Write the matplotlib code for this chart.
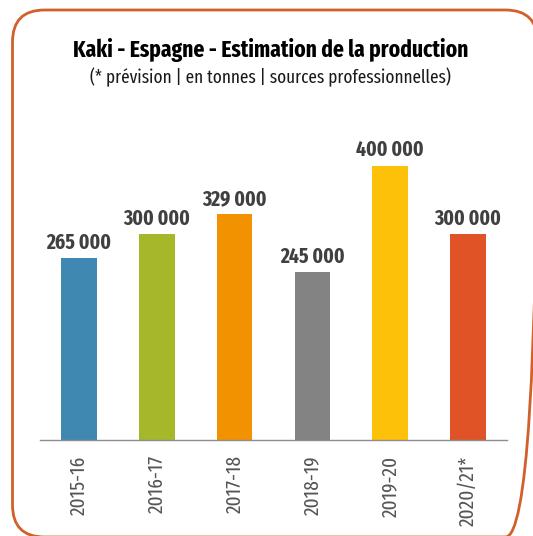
import matplotlib
matplotlib.use("Agg")
import matplotlib.pyplot as plt
from matplotlib.patches import FancyBboxPatch

plt.rcParams['font.family'] = ['Fira Sans Extra Condensed', 'DejaVu Sans']

seasons = ["2015-16", "2016-17", "2017-18", "2018-19", "2019-20", "2020/21*"]
production = [265000, 300000, 329000, 245000, 400000, 300000]
labels = ["265 000", "300 000", "329 000", "245 000", "400 000", "300 000"]
colors = ["#3f88b2", "#a6b82a", "#f39200", "#838383", "#fdc10a", "#e05327"]

TITLE = "Kaki - Espagne - Estimation de la production"
SUBTITLE = "(* prévision | en tonnes | sources professionnelles)"


def plot_production():
    fig = plt.figure(figsize=(5.33, 5.36), dpi=100)

    # background axes in pixel units, for the rounded frame
    bg = fig.add_axes([0, 0, 1, 1])
    bg.set_xlim(0, 533)
    bg.set_ylim(536, 0)
    bg.axis("off")
    frame = FancyBboxPatch((12.5, 10), 525, 527,
                           boxstyle="round,pad=0,rounding_size=32",
                           fill=False, edgecolor="#d2602a", linewidth=2.0,
                           clip_on=False)
    bg.add_patch(frame)

    ax = fig.add_axes([40 / 533, 96 / 536, 467 / 533, 330 / 536])
    x = range(len(seasons))
    bars = ax.bar(x, production, width=0.46, color=colors)

    for bar, lab in zip(bars, labels):
        ax.annotate(lab, (bar.get_x() + bar.get_width() / 2, bar.get_height()),
                    xytext=(0, 3.5), textcoords="offset points",
                    ha="center", va="bottom", fontsize=15.2, fontweight="bold",
                    color="#404040")

    ax.set_xlim(-0.5, len(seasons) - 0.5)
    ax.set_ylim(0, 481000)
    ax.set_xticks(list(x))
    ax.set_xticklabels(seasons, rotation=90, fontsize=15, color="#555555")
    ax.tick_params(axis="x", length=0, pad=11)
    ax.set_yticks([])
    for side in ["left", "right", "top"]:
        ax.spines[side].set_visible(False)
    ax.spines["bottom"].set_color("#8c8c8c")
    ax.spines["bottom"].set_linewidth(1.0)

    fig.text(0.508, 1 - 57 / 536, TITLE, ha="center", va="baseline",
             fontsize=16.8, fontweight="bold", color="#000000")
    fig.text(0.508, 1 - 83 / 536, SUBTITLE, ha="center", va="baseline",
             fontsize=13.4, color="#1a1a1a")

    fig.savefig("out.png", dpi=100)


if __name__ == "__main__":
    plot_production()
